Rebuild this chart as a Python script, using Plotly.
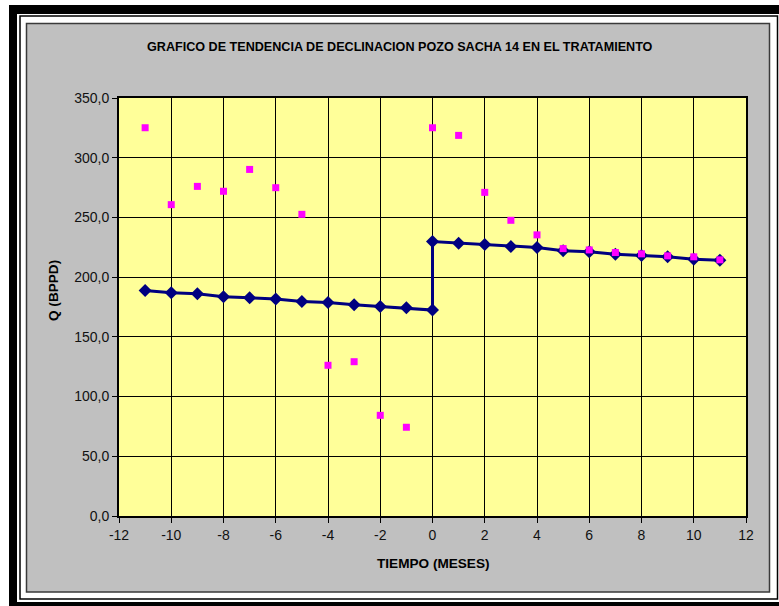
import plotly.graph_objects as go

# ---- data ----
trend_x = [-11, -10, -9, -8, -7, -6, -5, -4, -3, -2, -1, 0,
           0, 1, 2, 3, 4, 5, 6, 7, 8, 9, 10, 11]
trend_q = [188.8, 186.9, 186.0, 183.5, 182.7, 181.6, 179.6, 178.8, 176.9, 175.5, 174.4, 172.4,
           229.8, 228.4, 227.3, 225.6, 224.8, 222.2, 221.2, 219.2, 218.1, 217.0, 215.0, 214.2]

real_x = [-11, -10, -9, -8, -7, -6, -5, -4, -3, -2, -1,
          0, 1, 2, 3, 4, 5, 6, 7, 8, 9, 10, 11]
real_q = [325.1, 260.7, 276.0, 271.9, 290.2, 274.9, 252.6, 126.2, 129.2, 84.3, 74.3,
          325.1, 318.7, 271.0, 247.6, 235.4, 223.9, 222.8, 220.6, 219.5, 217.8, 217.0, 214.5]

x_tick_vals = [-12, -10, -8, -6, -4, -2, 0, 2, 4, 6, 8, 10, 12]
x_tick_text = ["-12", "-10", "-8", "-6", "-4", "-2", "0", "2", "4", "6", "8", "10", "12"]
y_tick_vals = [0, 50, 100, 150, 200, 250, 300, 350]
y_tick_text = ["0,0", "50,0", "100,0", "150,0", "200,0", "250,0", "300,0", "350,0"]

title_text = "GRAFICO DE TENDENCIA DE DECLINACION POZO SACHA 14 EN EL TRATAMIENTO"
x_title = "TIEMPO (MESES)"
y_title = "Q (BPPD)"

# ---- layout geometry (pixels) ----
FW, FH = 779, 606
L, T, W, H = 119, 98, 627, 418


def px(x):
    return (x - L) / W


def py(y):
    return (T + H - y) / H


def rect(x0, y0, x1, y1, fill=None, line=None, lw=0):
    return dict(type="rect", xref="paper", yref="paper", layer="below",
                x0=px(x0), x1=px(x1), y0=py(y1), y1=py(y0),
                fillcolor=fill if fill else "rgba(0,0,0,0)",
                line=dict(color=line if line else "rgba(0,0,0,0)", width=lw))


shapes = [
    rect(9, 5, 800, 620, fill="black"),
    rect(17, 14, 800, 602, fill="white"),
    rect(20, 16, 777.5, 599, line="black", lw=1.5),
    rect(26.5, 23.5, 769.5, 592, fill="#C0C0C0", line="#3a3a3a", lw=1.5),
    dict(type="rect", xref="paper", yref="paper", layer="below",
         x0=0, x1=1, y0=0, y1=1, fillcolor="#FFFF99", line=dict(width=0)),
]

fig = go.Figure()
fig.add_trace(go.Scatter(
    x=trend_x, y=trend_q, mode="lines+markers",
    line=dict(color="#000080", width=3),
    marker=dict(symbol="diamond", size=10, color="#000080"),
    showlegend=False, cliponaxis=False))
fig.add_trace(go.Scatter(
    x=real_x, y=real_q, mode="markers",
    marker=dict(symbol="square", size=7, color="#FF00FF"),
    showlegend=False, cliponaxis=False))

font_family = "Liberation Sans, Arial, sans-serif"

annotations = [
    dict(text="<b>" + title_text + "</b>", xref="paper", yref="paper",
         x=px(400), y=py(47.5), xanchor="center", yanchor="middle", showarrow=False,
         font=dict(family=font_family, size=12.6, color="black")),
    dict(text="<b>" + x_title + "</b>", xref="paper", yref="paper",
         x=px(433), y=py(563), xanchor="center", yanchor="middle", showarrow=False,
         font=dict(family=font_family, size=13.6, color="black")),
    dict(text="<b>" + y_title + "</b>", xref="paper", yref="paper",
         x=px(53), y=py(291), xanchor="center", yanchor="middle", showarrow=False,
         textangle=-90,
         font=dict(family=font_family, size=13.6, color="black")),
]

fig.update_layout(
    width=FW, height=FH,
    margin=dict(l=L, r=FW - L - W, t=T, b=FH - T - H, pad=0),
    paper_bgcolor="white", plot_bgcolor="#FFFF99",
    shapes=shapes, annotations=annotations,
    font=dict(family=font_family, size=14, color="black"),
    showlegend=False,
)
fig.update_xaxes(
    range=[-12, 12], tickvals=x_tick_vals, ticktext=x_tick_text,
    showgrid=True, gridcolor="black", gridwidth=1,
    showline=True, linecolor="black", linewidth=2, mirror=True,
    ticks="outside", ticklen=5, tickwidth=1, tickcolor="black",
    zeroline=False, tickfont=dict(size=14, color="#111"))
fig.update_yaxes(
    range=[0, 350], tickvals=y_tick_vals, ticktext=y_tick_text,
    showgrid=True, gridcolor="black", gridwidth=1,
    showline=True, linecolor="black", linewidth=2, mirror=True,
    ticks="outside", ticklen=5, tickwidth=1, tickcolor="black",
    zeroline=False, tickfont=dict(size=14, color="#111"))

fig.write_html(
    "out.html",
    config={"displayModeBar": False},
    post_script="document.body.style.margin='0';document.body.style.overflow='hidden';",
)
